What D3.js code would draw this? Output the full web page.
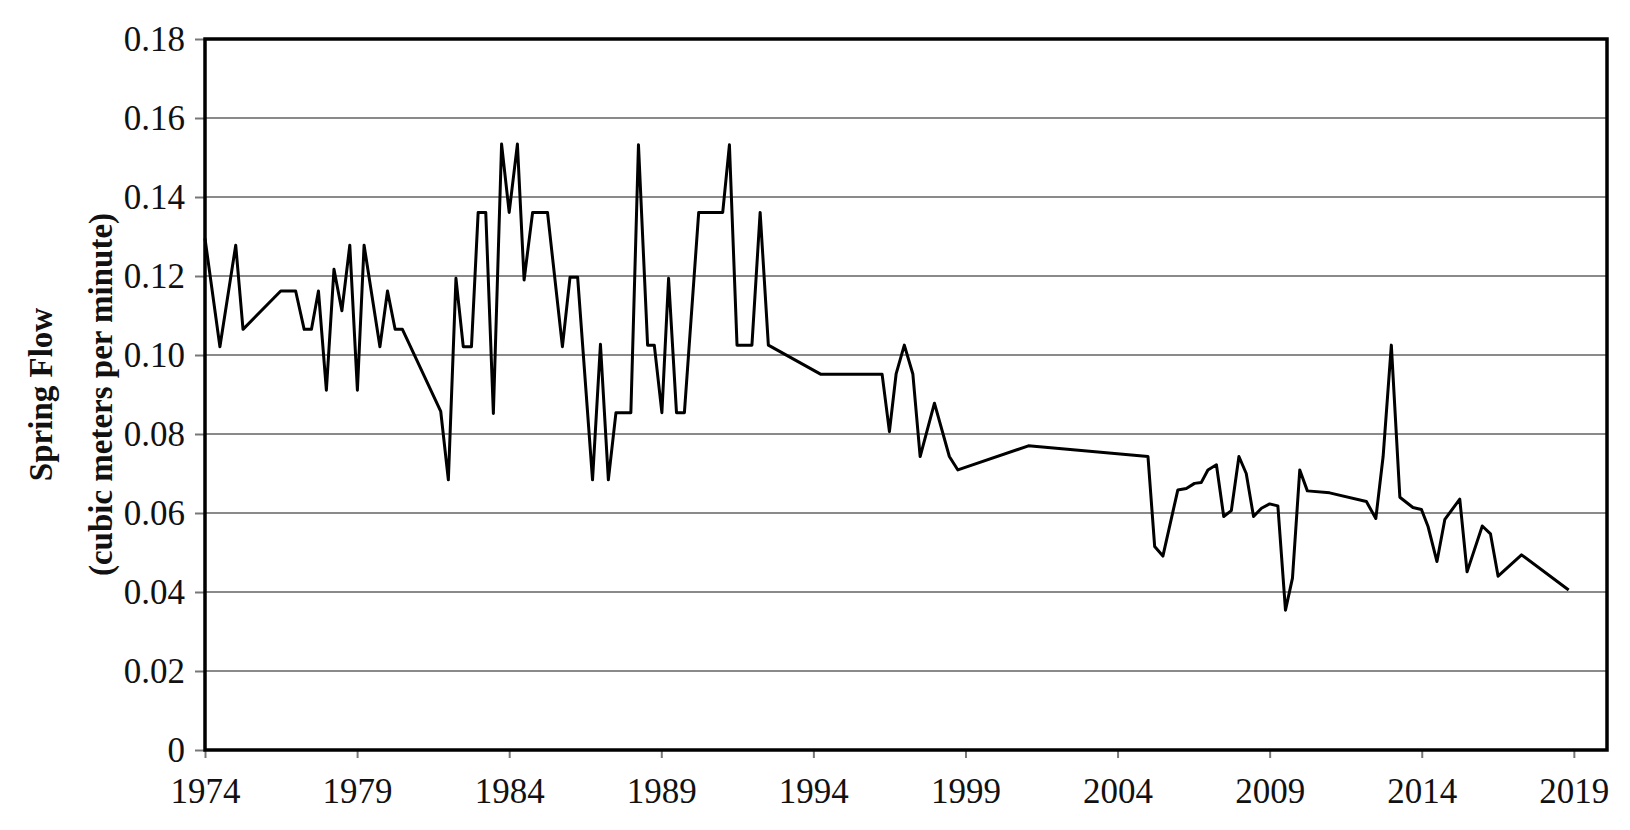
<!DOCTYPE html>
<html>
<head>
<meta charset="utf-8">
<script src="https://cdn.jsdelivr.net/npm/d3@7"></script>
<style>
  body { margin: 0; background: #fff; }
  text { font-family: "Liberation Serif", "DejaVu Serif", serif; fill: #111; }
</style>
</head>
<body>
<div id="chart"></div>
<script>
// Spring flow readings (decimal year, cubic meters per minute)
const years = [
  1974.00, 1974.49, 1975.01, 1975.25, 1976.49, 1976.98, 1977.26, 1977.50, 1977.73, 1977.99,
  1978.24, 1978.50, 1978.76, 1979.01, 1979.23, 1979.75, 1980.00, 1980.25, 1980.49, 1981.75,
  1982.00, 1982.25, 1982.49, 1982.76, 1982.98, 1983.23, 1983.48, 1983.75, 1984.00, 1984.27,
  1984.49, 1984.77, 1985.26, 1985.75, 1986.00, 1986.25, 1986.74, 1987.00, 1987.26, 1987.51,
  1988.00, 1988.25, 1988.55, 1988.77, 1989.02, 1989.24, 1989.50, 1989.76, 1990.23, 1991.02,
  1991.24, 1991.49, 1991.98, 1992.25, 1992.52, 1994.25, 1996.26, 1996.50, 1996.72, 1996.99,
  1997.27, 1997.51, 1997.98, 1998.47, 1998.75, 2001.07, 2005.00, 2005.22, 2005.49, 2005.98,
  2006.26, 2006.53, 2006.75, 2006.97, 2007.25, 2007.49, 2007.74, 2007.99, 2008.23, 2008.47,
  2008.73, 2009.00, 2009.27, 2009.52, 2009.75, 2009.99, 2010.24, 2010.97, 2012.18, 2012.49,
  2012.73, 2013.00, 2013.28, 2013.71, 2013.99, 2014.21, 2014.50, 2014.76, 2015.25, 2015.49,
  2015.99, 2016.26, 2016.51, 2017.28, 2018.83
];
const flows = [
  0.1295, 0.1021, 0.1278, 0.1065, 0.1162, 0.1162, 0.1065, 0.1065, 0.1162, 0.0911,
  0.1217, 0.1112, 0.1278, 0.0911, 0.1278, 0.1021, 0.1162, 0.1065, 0.1065, 0.0857,
  0.0684, 0.1194, 0.1021, 0.1021, 0.1361, 0.1361, 0.0852, 0.1534, 0.1361, 0.1534,
  0.1190, 0.1361, 0.1361, 0.1021, 0.1197, 0.1197, 0.0684, 0.1027, 0.0684, 0.0854,
  0.0854, 0.1532, 0.1025, 0.1025, 0.0854, 0.1194, 0.0854, 0.0854, 0.1361, 0.1361,
  0.1532, 0.1025, 0.1025, 0.1361, 0.1025, 0.0951, 0.0951, 0.0806, 0.0952, 0.1025,
  0.0952, 0.0743, 0.0878, 0.0743, 0.0709, 0.0770, 0.0743, 0.0515, 0.0491, 0.0658,
  0.0662, 0.0675, 0.0677, 0.0709, 0.0722, 0.0591, 0.0606, 0.0743, 0.0700, 0.0591,
  0.0612, 0.0623, 0.0618, 0.0354, 0.0435, 0.0709, 0.0656, 0.0651, 0.0629, 0.0586,
  0.0743, 0.1025, 0.0640, 0.0614, 0.0609, 0.0565, 0.0477, 0.0584, 0.0635, 0.0451,
  0.0567, 0.0547, 0.0440, 0.0494, 0.0405
];
const xTicks = [1974, 1979, 1984, 1989, 1994, 1999, 2004, 2009, 2014, 2019];
const yTicks = [0, 0.02, 0.04, 0.06, 0.08, 0.10, 0.12, 0.14, 0.16, 0.18];

const width = 1630, height = 830;
const margin = { top: 39, right: 23, bottom: 80, left: 205 };

const svg = d3.select("#chart").append("svg")
  .attr("width", width).attr("height", height);

const x = d3.scaleLinear().domain([1974, 2020.09]).range([margin.left, width - margin.right]);
const y = d3.scaleLinear().domain([0, 0.18]).range([height - margin.bottom, margin.top]);

// gridlines
svg.append("g").selectAll("line").data(yTicks.slice(1, -1)).join("line")
  .attr("x1", margin.left).attr("x2", width - margin.right)
  .attr("y1", d => y(d)).attr("y2", d => y(d))
  .attr("stroke", "#8a8a8a").attr("stroke-width", 2);

// y axis
const yAxis = svg.append("g")
  .attr("transform", `translate(${margin.left},0)`)
  .call(d3.axisLeft(y).tickValues(yTicks).tickSize(10).tickPadding(10)
    .tickFormat(d => d === 0 ? "0" : d3.format(".2f")(d)));
yAxis.select(".domain").remove();
yAxis.selectAll(".tick line").attr("stroke", "#777").attr("stroke-width", 2);
yAxis.selectAll("text").style("font-size", "35px").attr("fill", "#111");

// x axis
const xAxis = svg.append("g")
  .attr("transform", `translate(0,${height - margin.bottom})`)
  .call(d3.axisBottom(x).tickValues(xTicks).tickSize(8).tickPadding(20).tickFormat(d3.format("d")));
xAxis.select(".domain").remove();
xAxis.selectAll(".tick line").attr("stroke", "#777").attr("stroke-width", 2);
xAxis.selectAll("text").style("font-size", "35px").attr("fill", "#111");

// plot border
svg.append("rect")
  .attr("x", margin.left).attr("y", margin.top)
  .attr("width", width - margin.right - margin.left)
  .attr("height", height - margin.bottom - margin.top)
  .attr("fill", "none").attr("stroke", "#000").attr("stroke-width", 3.5);

// series
const line = d3.line().x((d, i) => x(years[i])).y(d => y(d));
svg.append("path").datum(flows)
  .attr("d", line).attr("fill", "none")
  .attr("stroke", "#000").attr("stroke-width", 3).attr("stroke-linejoin", "round");

// y label
const yl = svg.append("text")
  .attr("transform", `translate(0,${(margin.top + height - margin.bottom) / 2}) rotate(-90)`)
  .attr("text-anchor", "middle").style("font-size", "33px").style("font-weight", "bold");
yl.append("tspan").attr("x", 0).attr("y", 52).text("Spring Flow");
yl.append("tspan").attr("x", 0).attr("y", 112).text("(cubic meters per minute)");
</script>
</body>
</html>
